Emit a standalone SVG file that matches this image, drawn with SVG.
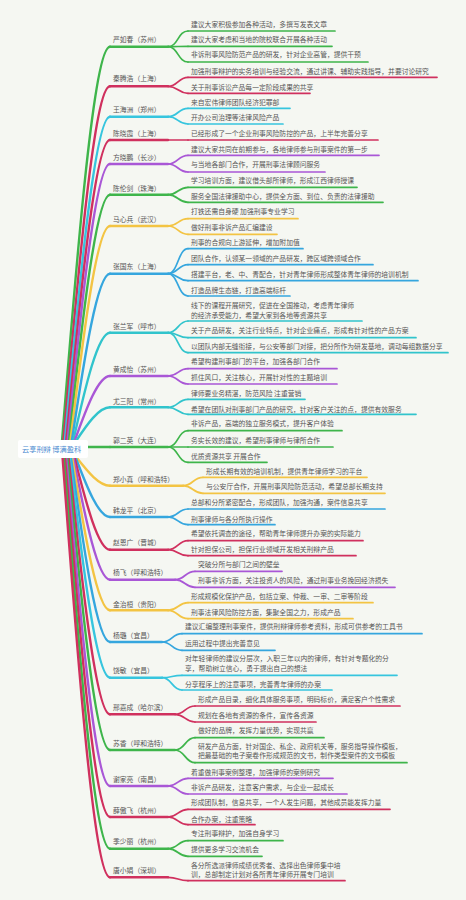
<svg xmlns="http://www.w3.org/2000/svg" width="466" height="900" viewBox="0 0 466 900">
<style>
text{font-family:"Noto Sans CJK SC","Noto Sans",sans-serif;font-size:6.8px;fill:#555}
.root{font-size:7.2px;fill:#4a8ad0}
path{fill:none;stroke-linecap:round}
.m{stroke-width:2.4}
.c{stroke-width:1.7}
.G{stroke:#3eb54b}.R{stroke:#d0305e}.C{stroke:#36c5de}.P{stroke:#a957d6}.Y{stroke:#f3c443}.B{stroke:#35a6de}.T{stroke:#31c4cc}
</style>
<rect width="466" height="900" fill="#f5f7f2"/>
<g id="connectors">
<path class="m G" d="M62,441 C77.8,243.9 94.2,46.7 110,46.7"/>
<path class="c G" d="M168,46.7 C178,46.7 178,31 188,31"/>
<path class="c G" d="M168,46.7 C178,46.7 178,46.3 188,46.3"/>
<path class="c G" d="M168,46.7 C178,46.7 178,62 188,62"/>
<path class="m R" d="M63.4,441 C78.8,263.7 94.6,86.3 110,86.3"/>
<path class="c R" d="M168,86.3 C178,86.3 178,77.3 188,77.3"/>
<path class="c R" d="M168,86.3 C178,86.3 178,93.3 188,93.3"/>
<path class="m C" d="M64.8,441 C79.7,278.9 95.1,116.7 110,116.7"/>
<path class="c C" d="M168,116.7 C178,116.7 178,108.3 188,108.3"/>
<path class="c C" d="M168,116.7 C178,116.7 178,124 188,124"/>
<path class="m R" d="M66.2,441 C80.7,290.5 95.5,140 110,140"/>
<path class="c R" d="M168,140 L188,140"/>
<path class="m P" d="M67.6,441 C81.6,302.5 96,164 110,164"/>
<path class="c P" d="M168,164 C178,164 178,155.3 188,155.3"/>
<path class="c P" d="M168,164 C178,164 178,172 188,172"/>
<path class="m G" d="M69,441 C82.5,317.9 96.5,194.7 110,194.7"/>
<path class="c G" d="M168,194.7 C178,194.7 178,187.3 188,187.3"/>
<path class="c G" d="M168,194.7 C178,194.7 178,202.3 188,202.3"/>
<path class="m Y" d="M70.4,441 C83.5,333.5 96.9,226 110,226"/>
<path class="c Y" d="M168,226 C178,226 178,218.7 188,218.7"/>
<path class="c Y" d="M168,226 C178,226 178,234.3 188,234.3"/>
<path class="m B" d="M71.8,441 C84.4,357.4 97.4,273.7 110,273.7"/>
<path class="c B" d="M168,273.7 C178,273.7 178,248.7 188,248.7"/>
<path class="c B" d="M168,273.7 C178,273.7 178,264.7 188,264.7"/>
<path class="c B" d="M168,273.7 C178,273.7 178,280.7 188,280.7"/>
<path class="c B" d="M168,273.7 C178,273.7 178,296 188,296"/>
<path class="m T" d="M73.2,441 C85.3,386.8 97.9,332.7 110,332.7"/>
<path class="c T" d="M168,332.7 C178,332.7 178,321 188,321"/>
<path class="c T" d="M168,332.7 C178,332.7 178,337.7 188,337.7"/>
<path class="c T" d="M168,332.7 C178,332.7 178,352.7 188,352.7"/>
<path class="m P" d="M74.6,441 C86.3,408.5 98.3,376 110,376"/>
<path class="c P" d="M168,376 C178,376 178,368.7 188,368.7"/>
<path class="c P" d="M168,376 C178,376 178,384 188,384"/>
<path class="m T" d="M76,441 C87.2,424.2 98.8,407.3 110,407.3"/>
<path class="c T" d="M168,407.3 C178,407.3 178,399.3 188,399.3"/>
<path class="c T" d="M168,407.3 C178,407.3 178,414.3 188,414.3"/>
<path class="m G" d="M88,447 H110"/>
<path class="c G" d="M168,447 C178,447 178,430.7 188,430.7"/>
<path class="c G" d="M168,447 L188,447"/>
<path class="c G" d="M168,447 C178,447 178,462.3 188,462.3"/>
<path class="m Y" d="M77,458 C87.9,471.9 99.1,485.7 110,485.7"/>
<path class="c Y" d="M183,485.7 C193,485.7 193,477.3 203,477.3"/>
<path class="c Y" d="M183,485.7 C193,485.7 193,493.3 203,493.3"/>
<path class="m B" d="M75.8,458 C87.1,487.5 98.7,517 110,517"/>
<path class="c B" d="M168,517 C178,517 178,509 188,509"/>
<path class="c B" d="M168,517 C178,517 178,524.7 188,524.7"/>
<path class="m R" d="M74.6,458 C86.3,503.9 98.3,549.7 110,549.7"/>
<path class="c R" d="M168,549.7 C178,549.7 178,540.7 188,540.7"/>
<path class="c R" d="M168,549.7 C178,549.7 178,555.7 188,555.7"/>
<path class="m P" d="M73.4,458 C85.5,518.9 97.9,579.7 110,579.7"/>
<path class="c P" d="M175,579.7 C185,579.7 185,571.3 195,571.3"/>
<path class="c P" d="M175,579.7 C185,579.7 185,587.3 195,587.3"/>
<path class="m Y" d="M72.2,458 C84.7,534.2 97.5,610.3 110,610.3"/>
<path class="c Y" d="M168,610.3 C178,610.3 178,602.7 188,602.7"/>
<path class="c Y" d="M168,610.3 C178,610.3 178,618.7 188,618.7"/>
<path class="m B" d="M71,458 C83.9,550 97.1,642 110,642"/>
<path class="c B" d="M162,642 C172,642 172,633.7 182,633.7"/>
<path class="c B" d="M162,642 C172,642 172,650.3 182,650.3"/>
<path class="m C" d="M69.8,458 C83.1,567.9 96.7,677.7 110,677.7"/>
<path class="c C" d="M162,677.7 C172,677.7 172,675.3 182,675.3"/>
<path class="c C" d="M162,677.7 C172,677.7 172,690 182,690"/>
<path class="m R" d="M68.6,458 C82.3,586.2 96.3,714.3 110,714.3"/>
<path class="c R" d="M175,714.3 C185,714.3 185,706 195,706"/>
<path class="c R" d="M175,714.3 C185,714.3 185,722 195,722"/>
<path class="m G" d="M67.4,458 C81.5,604 95.9,750 110,750"/>
<path class="c G" d="M175,750 C185,750 185,737.7 195,737.7"/>
<path class="c G" d="M175,750 C185,750 185,762.7 195,762.7"/>
<path class="m P" d="M66.2,458 C80.7,622 95.5,786 110,786"/>
<path class="c P" d="M168,786 C178,786 178,778.3 188,778.3"/>
<path class="c P" d="M168,786 C178,786 178,794 188,794"/>
<path class="m R" d="M65,458 C79.9,637.5 95.2,817 110,817"/>
<path class="c R" d="M168,817 C178,817 178,809.3 188,809.3"/>
<path class="c R" d="M168,817 C178,817 178,824.7 188,824.7"/>
<path class="m G" d="M63.8,458 C79,653.4 94.8,848.7 110,848.7"/>
<path class="c G" d="M168,848.7 C178,848.7 178,840.7 188,840.7"/>
<path class="c G" d="M168,848.7 C178,848.7 178,856.3 188,856.3"/>
<path class="m R" d="M62.6,458 C78.2,667.7 94.4,877.3 110,877.3"/>
<path class="c R" d="M168,877.3 C178,877.3 178,880.7 188,880.7"/>
</g>
<g id="root"><rect x="18" y="440" width="70" height="18" rx="2" fill="#ffffff"/><text class="root" x="22" y="451.5">云享刑辩 博满盈科</text></g>

<g id="n1"><text x="113" y="42.4">严如春（苏州）</text><path class="m G" d="M110,46.7 H168"/></g>
<g id="n1-1"><text x="191" y="26.7">建议大家积极参加各种活动，多撰写发表文章</text><path class="c G" d="M188,31 H335"/></g>
<g id="n1-2"><text x="191" y="42.4">建议大家考虑和当地的院校联合开展各种活动</text><path class="c G" d="M188,46.3 H332"/></g>
<g id="n1-3"><text x="191" y="57.4">非诉刑事风险防范产品的研发，针对企业高管，提供干预</text><path class="c G" d="M188,62 H368"/></g>

<g id="n2"><text x="113" y="81.4">秦腾浩（上海）</text><path class="m R" d="M110,86.3 H168"/></g>
<g id="n2-1"><text x="191" y="74.1">加强刑事辩护的实务培训与经验交流，通过讲课、辅助实践指导，并要讨论研究</text><path class="c R" d="M188,77.3 H437"/></g>
<g id="n2-2"><text x="191" y="89.7">关于刑事诉讼产品每一定阶段成果的共享</text><path class="c R" d="M188,93.3 H310"/></g>

<g id="n3"><text x="113" y="112.4">王海洲（郑州）</text><path class="m C" d="M110,116.7 H168"/></g>
<g id="n3-1"><text x="191" y="104.7">来自宏伟律师团队经济犯罪部</text><path class="c C" d="M188,108.3 H290"/></g>
<g id="n3-2"><text x="191" y="119.7">开办公司治理等法律风险产品</text><path class="c C" d="M188,124 H283"/></g>

<g id="n4"><text x="113" y="136.4">陈晓霞（上海）</text><path class="m R" d="M110,140 H168"/></g>
<g id="n4-1"><text x="191" y="136.4">已经形成了一个企业刑事风险防控的产品，上半年完善分享</text><path class="c R" d="M188,140 H378"/></g>

<g id="n5"><text x="113" y="159.7">方晓鹏（长沙）</text><path class="m P" d="M110,164 H168"/></g>
<g id="n5-1"><text x="191" y="152.1">建议大家共同在前期参与，各地律师参与刑事案件的第一步</text><path class="c P" d="M188,155.3 H379"/></g>
<g id="n5-2"><text x="191" y="167.1">与当地各部门合作，开展刑事法律顾问服务</text><path class="c P" d="M188,172 H325"/></g>

<g id="n6"><text x="113" y="191.1">陈伦剑（珠海）</text><path class="m G" d="M110,194.7 H168"/></g>
<g id="n6-1"><text x="191" y="183.1">学习培训方面，建议借头部所律师，形成江西律师授课</text><path class="c G" d="M188,187.3 H357"/></g>
<g id="n6-2"><text x="191" y="198.7">服务全国法律援助中心，提供全方面、到位、负责的法律援助</text><path class="c G" d="M188,202.3 H383"/></g>

<g id="n7"><text x="113" y="222.1">马心兵（武汉）</text><path class="m Y" d="M110,226 H168"/></g>
<g id="n7-1"><text x="191" y="213.7">打铁还需自身硬 加强刑事专业学习</text><path class="c Y" d="M188,218.7 H298"/></g>
<g id="n7-2"><text x="191" y="230.1">做好刑事非诉产品汇编建设</text><path class="c Y" d="M188,234.3 H277"/></g>

<g id="n8"><text x="113" y="268.7">张国东（上海）</text><path class="m B" d="M110,273.7 H168"/></g>
<g id="n8-1"><text x="191" y="245.4">刑事的合规向上游延伸，增加附加值</text><path class="c B" d="M188,248.7 H303"/></g>
<g id="n8-2"><text x="191" y="261.1">团队合作，认领某一领域的产品研发，跨区域跨领域合作</text><path class="c B" d="M188,264.7 H373"/></g>
<g id="n8-3"><text x="191" y="277.1">搭建平台，老、中、青配合，针对青年律师形成整体青年律师的培训机制</text><path class="c B" d="M188,280.7 H418"/></g>
<g id="n8-4"><text x="191" y="292.7">打造品牌生态链，打造高端标杆</text><path class="c B" d="M188,296 H290"/></g>

<g id="n9"><text x="113" y="329.1">张兰军（呼市）</text><path class="m T" d="M110,332.7 H168"/></g>
<g id="n9-1"><text x="191" y="308.4">线下的课程开展研究，促进在全国推动，考虑青年律师</text><text x="191" y="317.7">的经济承受能力，希望大家到各地等资源共享</text><path class="c T" d="M188,321 H362"/></g>
<g id="n9-2"><text x="191" y="333.4">关于产品研发，关注行业特点，针对企业痛点，形成有针对性的产品方案</text><path class="c T" d="M188,337.7 H416"/></g>
<g id="n9-3"><text x="191" y="349.4">以团队内部无缝衔接，与公安等部门对接，把分所作为研发基地，调动每组数据分享</text><path class="c T" d="M188,352.7 H448"/></g>

<g id="n10"><text x="113" y="371.7">黄成怡（苏州）</text><path class="m P" d="M110,376 H168"/></g>
<g id="n10-1"><text x="191" y="364.4">希望构建刑事部门的平台，加强各部门合作</text><path class="c P" d="M188,368.7 H337"/></g>
<g id="n10-2"><text x="191" y="379.7">抓住风口，关注核心，开展针对性的主题培训</text><path class="c P" d="M188,384 H337"/></g>

<g id="n11"><text x="113" y="404.1">尤三阳（常州）</text><path class="m T" d="M110,407.3 H168"/></g>
<g id="n11-1"><text x="191" y="396.4">律师要业务精湛，防范风险 注重营销</text><path class="c T" d="M188,399.3 H305"/></g>
<g id="n11-2"><text x="191" y="411.7">希望在团队对刑事部门产品的研究，针对客户关注的点，提供有效服务</text><path class="c T" d="M188,414.3 H416"/></g>

<g id="n12"><text x="113" y="443.1">郭二英（大连）</text><path class="m G" d="M110,447 H168"/></g>
<g id="n12-1"><text x="191" y="426.4">非诉产品，高端的独立服务模式，提升客户体验</text><path class="c G" d="M188,430.7 H342"/></g>
<g id="n12-2"><text x="191" y="443.1">务实长效的建议，希望刑事律师与律所合作</text><path class="c G" d="M188,447 H333"/></g>
<g id="n12-3"><text x="191" y="459.1">优质资源共享 开展合作</text><path class="c G" d="M188,462.3 H267"/></g>

<g id="n13"><text x="113" y="482.4">郑小真（呼和浩特）</text><path class="m Y" d="M110,485.7 H183"/></g>
<g id="n13-1"><text x="206" y="473.7">形成长期有效的培训机制，提供青年律师学习的平台</text><path class="c Y" d="M203,477.3 H367"/></g>
<g id="n13-2"><text x="206" y="489.1">与公安厅合作，开展刑事风险防范活动，希望总部长期支持</text><path class="c Y" d="M203,493.3 H385"/></g>

<g id="n14"><text x="113" y="513.1">韩龙平（北京）</text><path class="m B" d="M110,517 H168"/></g>
<g id="n14-1"><text x="191" y="504.7">总部和分所紧密配合，形成团队，加强沟通，案件信息共享</text><path class="c B" d="M188,509 H385"/></g>
<g id="n14-2"><text x="191" y="522.1">刑事律师与各分所执行操作</text><path class="c B" d="M188,524.7 H275"/></g>

<g id="n15"><text x="113" y="544.7">赵恩广（晋城）</text><path class="m R" d="M110,549.7 H168"/></g>
<g id="n15-1"><text x="191" y="536.4">希望依托调查的途径，帮助青年律师提升办案的实际能力</text><path class="c R" d="M188,540.7 H363"/></g>
<g id="n15-2"><text x="191" y="552.1">针对担保公司，担保行业领域开发相关刑辩产品</text><path class="c R" d="M188,555.7 H356"/></g>

<g id="n16"><text x="113" y="575.4">杨飞（呼和浩特）</text><path class="m P" d="M110,579.7 H175"/></g>
<g id="n16-1"><text x="198" y="567.1">突破分所与部门之间的壁垒</text><path class="c P" d="M195,571.3 H282"/></g>
<g id="n16-2"><text x="198" y="583.1">刑事非诉方面，关注投资人的风险，通过刑事业务挽回经济损失</text><path class="c P" d="M195,587.3 H395"/></g>

<g id="n17"><text x="113" y="607.1">金治桓（贵阳）</text><path class="m Y" d="M110,610.3 H168"/></g>
<g id="n17-1"><text x="191" y="599.4">形成规模化保护产品，包括立案、仲裁、一审、二审等阶段</text><path class="c Y" d="M188,602.7 H373"/></g>
<g id="n17-2"><text x="191" y="615.1">刑事法律风险防控方面，集聚全国之力，形成产品</text><path class="c Y" d="M188,618.7 H353"/></g>

<g id="n18"><text x="113" y="637.7">杨璐（宜昌）</text><path class="m B" d="M110,642 H162"/></g>
<g id="n18-1"><text x="185" y="629.4">建议汇编整理刑事案件，提供刑辩律师参考资料，形成可供参考的工具书</text><path class="c B" d="M182,633.7 H422"/></g>
<g id="n18-2"><text x="185" y="646.1">运用过程中提出完善意见</text><path class="c B" d="M182,650.3 H275"/></g>

<g id="n19"><text x="113" y="673.4">饶敏（宜昌）</text><path class="m C" d="M110,677.7 H162"/></g>
<g id="n19-1"><text x="185" y="661.1">对年轻律师的建议分层次，入职三年以内的律师，有针对专题化的分</text><text x="185" y="671.1">享，帮助树立信心，勇于提出自己的想法</text><path class="c C" d="M182,675.3 H397"/></g>
<g id="n19-2"><text x="185" y="686.7">分享程序上的注意事项，完善青年律师的办案</text><path class="c C" d="M182,690 H332"/></g>

<g id="n20"><text x="113" y="710.1">邢嘉成（哈尔滨）</text><path class="m R" d="M110,714.3 H175"/></g>
<g id="n20-1"><text x="198" y="701.7">形成产品目录，细化具体服务事项，明码标价，满足客户个性需求</text><path class="c R" d="M195,706 H400"/></g>
<g id="n20-2"><text x="198" y="717.7">规划在各地有资源的条件，宣传各资源</text><path class="c R" d="M195,722 H316"/></g>

<g id="n21"><text x="113" y="745.7">苏香（呼和浩特）</text><path class="m G" d="M110,750 H175"/></g>
<g id="n21-1"><text x="198" y="733.4">做好的品牌，发挥力量优势，实现共赢</text><path class="c G" d="M195,737.7 H324"/></g>
<g id="n21-2"><text x="198" y="749.1">研发产品方面，针对国企、私企、政府机关等，服务指导操作模板，</text><text x="198" y="758.4">把最基础的电子案卷作形成规范的文书，制作类型案件的文书模板</text><path class="c G" d="M195,762.7 H407"/></g>

<g id="n22"><text x="113" y="781.7">谢家亮（南昌）</text><path class="m P" d="M110,786 H168"/></g>
<g id="n22-1"><text x="191" y="774.7">着重做刑事案例整理，加强律师的案例研究</text><path class="c P" d="M188,778.3 H333"/></g>
<g id="n22-2"><text x="191" y="790.1">非诉产品研发，注意客户需求，与企业一起成长</text><path class="c P" d="M188,794 H347"/></g>

<g id="n23"><text x="113" y="813.1">薛傲飞（杭州）</text><path class="m R" d="M110,817 H168"/></g>
<g id="n23-1"><text x="191" y="805.1">形成团队制，信息共享，一个人发生问题，其他成员能发挥力量</text><path class="c R" d="M188,809.3 H390"/></g>
<g id="n23-2"><text x="191" y="822.1">合作办案，注重策略</text><path class="c R" d="M188,824.7 H255"/></g>

<g id="n24"><text x="113" y="844.4">季少丽（杭州）</text><path class="m G" d="M110,848.7 H168"/></g>
<g id="n24-1"><text x="191" y="836.4">专注刑事辩护，加强自身学习</text><path class="c G" d="M188,840.7 H283"/></g>
<g id="n24-2"><text x="191" y="852.1">提供更多学习交流机会</text><path class="c G" d="M188,856.3 H262"/></g>

<g id="n25"><text x="113" y="873.1">唐小娟（深圳）</text><path class="m R" d="M110,877.3 H168"/></g>
<g id="n25-1"><text x="191" y="868.1">各分所选派律师成绩优秀者、选择出色律师集中培</text><text x="191" y="877.1">训，总部制定计划对各所青年律师开展专门培训</text><path class="c R" d="M188,880.7 H345"/></g>
</svg>
